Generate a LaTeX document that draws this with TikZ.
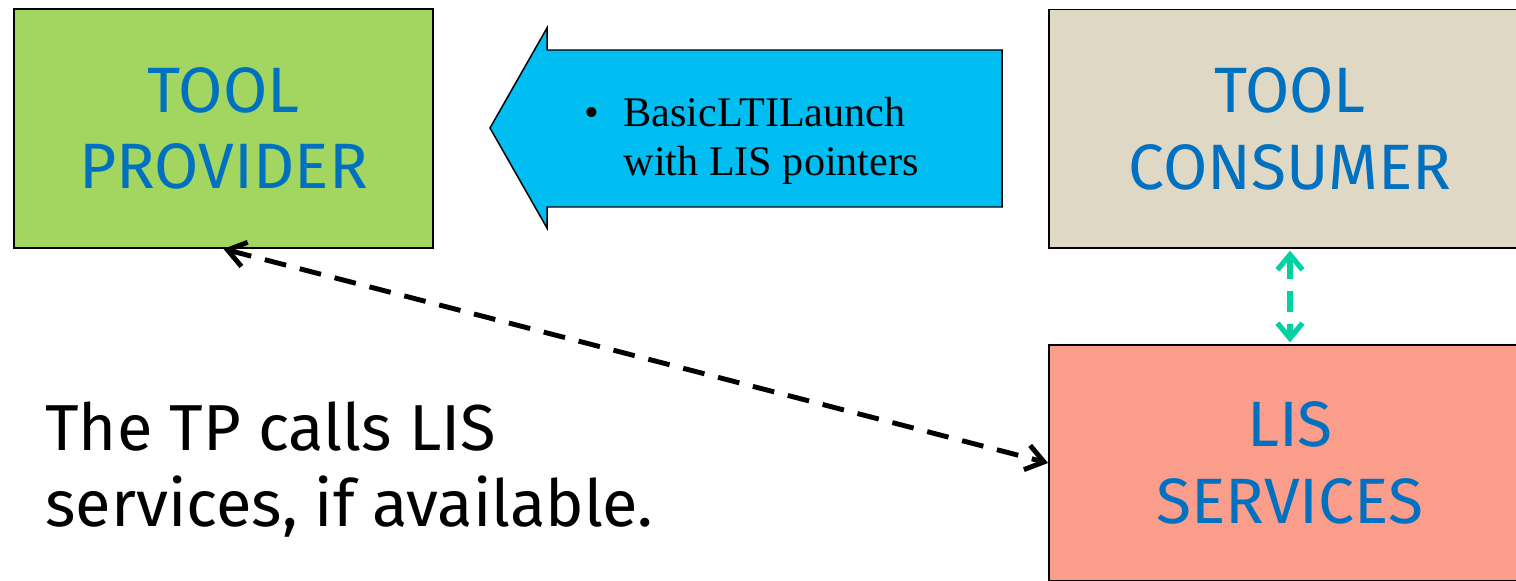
\documentclass[tikz,border=0pt]{standalone}
\usepackage{fontspec}
\usetikzlibrary{arrows.meta}
\newfontfamily\boxfont{Fira Sans}
\newfontfamily\launchfont{Liberation Serif}
\definecolor{tpgreen}{RGB}{162,214,96}
\definecolor{tcbeige}{RGB}{222,216,197}
\definecolor{lissalmon}{RGB}{250,157,138}
\definecolor{launchcyan}{RGB}{0,190,242}
\definecolor{boxblue}{RGB}{0,112,192}
\definecolor{linkgreen}{RGB}{0,210,164}
\tikzset{
	block/.style={draw=black, line width=1.1pt, text=boxblue, inner sep=0pt, align=center,
		font=\boxfont\fontsize{36.5}{43.7}\selectfont},
	dasharrow/.style={line width=2.8pt, dash pattern=on 12.5pt off 8pt,
		{Straight Barb[length=3.5mm,width=5mm]}-{Straight Barb[length=3.5mm,width=5mm]}},
	greenarrow/.style={draw=linkgreen, line width=3pt, dash pattern=on 12pt off 7pt,
		{Straight Barb[length=3mm,width=5mm]}-{Straight Barb[length=3mm,width=5mm]}}
}

\begin{document}
\begin{tikzpicture}[x=0.02cm, y=-0.02cm]
		%%%%% START %%%%%
		\clip (0, 0) rectangle (1516, 581);
		
		% boxes
		\node[block, fill=tpgreen, minimum width=8.38cm, minimum height=4.78cm] (tp) at (223.5, 128.5) {\raisebox{-2.3pt}{TOOL}\\\raisebox{-2.3pt}{PROVIDER}};
		\node[block, fill=tcbeige, minimum width=9.64cm, minimum height=4.77cm] (tc) at (1290, 128.75) {\raisebox{-2.3pt}{TOOL}\\\raisebox{-2.3pt}{CONSUMER}};
		\node[block, fill=lissalmon, minimum width=9.64cm, minimum height=4.72cm] (lis) at (1290, 463) {LIS\\SERVICES};
		
		% launch arrow
		\draw[fill=launchcyan, line width=0.85pt] (490, 128) -- (547, 28) -- (547, 50) -- (1002, 50)
			-- (1002, 207) -- (547, 207) -- (547, 228) -- cycle;
		\node[anchor=west, inner sep=0pt, font=\launchfont\fontsize{24}{28.3}\selectfont] (launch) at (584, 141)
			{\begin{tabular}{@{}l@{\hspace{14pt}}l@{}}\textbullet & BasicLTILaunch\\ & with LIS pointers\end{tabular}};
		
		% connectors
		\draw[dasharrow] (tp.south) -- (lis.west);
		\draw[greenarrow, shorten <=1pt, shorten >=1pt] (tc.south) -- (lis.north);
		
		% note
		\node[anchor=north west, inner sep=0pt, align=left, font=\boxfont\fontsize{37}{43.7}\selectfont] (note) at (45, 401)
			{The TP calls LIS\\services, if available.};
		%%%%% END %%%%%
\end{tikzpicture}
\end{document}
